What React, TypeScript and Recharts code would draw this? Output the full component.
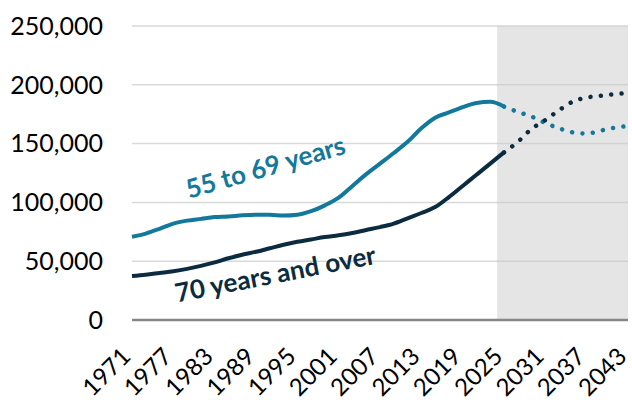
import { CartesianGrid, Line, LineChart, ReferenceArea, XAxis, YAxis } from 'recharts'

const histYears = [
  1971, 1973, 1975, 1977, 1979, 1981, 1983, 1985, 1987, 1989, 1991, 1993, 1995, 1997,
  1999, 2001, 2003, 2005, 2007, 2009, 2011, 2013, 2015, 2017, 2019, 2021, 2023, 2025,
]
const hist55to69 = [
  70800, 73500, 77500, 82000, 84500, 86000, 87500, 88000, 89000, 89500, 89500, 88800, 89500, 92500,
  97500, 104000, 114000, 124000, 133000, 142000, 151500, 163000, 172000, 176500, 181000, 184500, 185500, 181500,
]
const hist70plus = [
  37400, 38500, 40000, 41500, 43500, 46000, 49000, 52500, 55500, 58000, 61000, 64000, 66500, 68500,
  70500, 72000, 74000, 76500, 79000, 82000, 86500, 91000, 96000, 104500, 114000, 123500, 133000, 142500,
]

const projYears = [2025, 2027, 2029, 2031, 2033, 2035, 2037, 2039, 2041, 2043]
const proj55to69 = [181500, 177000, 173000, 167500, 163000, 159500, 158500, 161000, 163500, 165000]
const proj70plus = [142500, 151500, 162500, 170000, 178500, 185700, 189200, 190600, 192000, 193000]

const xTicks = [1971, 1977, 1983, 1989, 1995, 2001, 2007, 2013, 2019, 2025, 2031, 2037, 2043]
const yTicks = [0, 50000, 100000, 150000, 200000, 250000]
const projectionStart = 2024

const TEAL = '#13799c'
const NAVY = '#0b2c40'
const FONT = 'Lato, "Open Sans", sans-serif'

const rows = (years: number[], vals: number[]) => years.map((year, i) => ({ year, v: vals[i] }))

function YearTick({ x, y, payload }: any) {
  const tx = x
  const ty = y + 38
  return (
    <text
      x={tx}
      y={ty}
      transform={`rotate(-45 ${tx} ${ty})`}
      textAnchor="end"
      fontFamily={FONT}
      fontSize={24}
      fill="#000"
    >
      {payload.value}
    </text>
  )
}

export default function App() {
  return (
    <div style={{ position: 'relative', width: 632, height: 400, overflow: 'hidden' }}>
      <style>{'body{margin:0}'}</style>
      <LineChart width={632} height={400} margin={{ top: 26, right: 4, left: 0, bottom: 0 }}>
        <CartesianGrid vertical={false} stroke="#d9d9d9" strokeWidth={1.5} />
        {/* semi-transparent so the gridlines still show through the projection band */}
        <ReferenceArea x1={projectionStart} x2={2043} y1={0} y2={250000} fill="#c8c8c8" fillOpacity={0.47} stroke="none" />
        <XAxis
          dataKey="year"
          type="number"
          domain={[1971, 2043]}
          ticks={xTicks}
          height={80}
          tickLine={false}
          tickSize={0}
          tickMargin={0}
          interval={0}
          axisLine={{ stroke: '#868686', strokeWidth: 2.5 }}
          tick={<YearTick />}
        />
        <YAxis
          type="number"
          domain={[0, 250000]}
          ticks={yTicks}
          width={132}
          axisLine={false}
          tickLine={false}
          tickSize={0}
          tickMargin={29}
          tickFormatter={(v: number) => v.toLocaleString('en-US')}
          tick={{ fill: '#000', fontSize: 25, fontFamily: FONT }}
        />
        <Line
          data={rows(histYears, hist55to69)}
          dataKey="v"
          type="monotone"
          stroke={TEAL}
          strokeWidth={4}
          dot={false}
          isAnimationActive={false}
        />
        <Line
          data={rows(histYears, hist70plus)}
          dataKey="v"
          type="monotone"
          stroke={NAVY}
          strokeWidth={4}
          dot={false}
          isAnimationActive={false}
        />
        <Line
          data={rows(projYears, proj55to69)}
          dataKey="v"
          type="monotone"
          stroke={TEAL}
          strokeWidth={4.5}
          strokeDasharray="0.01 10.4"
          strokeLinecap="round"
          dot={false}
          isAnimationActive={false}
        />
        <Line
          data={rows(projYears, proj70plus)}
          dataKey="v"
          type="monotone"
          stroke={NAVY}
          strokeWidth={4.5}
          strokeDasharray="0.01 10.4"
          strokeLinecap="round"
          dot={false}
          isAnimationActive={false}
        />
      </LineChart>
      <svg width={632} height={400} style={{ position: 'absolute', left: 0, top: 0, pointerEvents: 'none' }}>
        <text
          x={268}
          y={176}
          transform="rotate(-16 268 176)"
          textAnchor="middle"
          fontFamily={FONT}
          fontWeight={700}
          fontSize={26}
          fill={TEAL}
        >
          55 to 69 years
        </text>
        <text
          x={277}
          y={283}
          transform="rotate(-11 277 283)"
          textAnchor="middle"
          fontFamily={FONT}
          fontWeight={700}
          fontSize={26}
          fill={NAVY}
        >
          70 years and over
        </text>
      </svg>
    </div>
  )
}
